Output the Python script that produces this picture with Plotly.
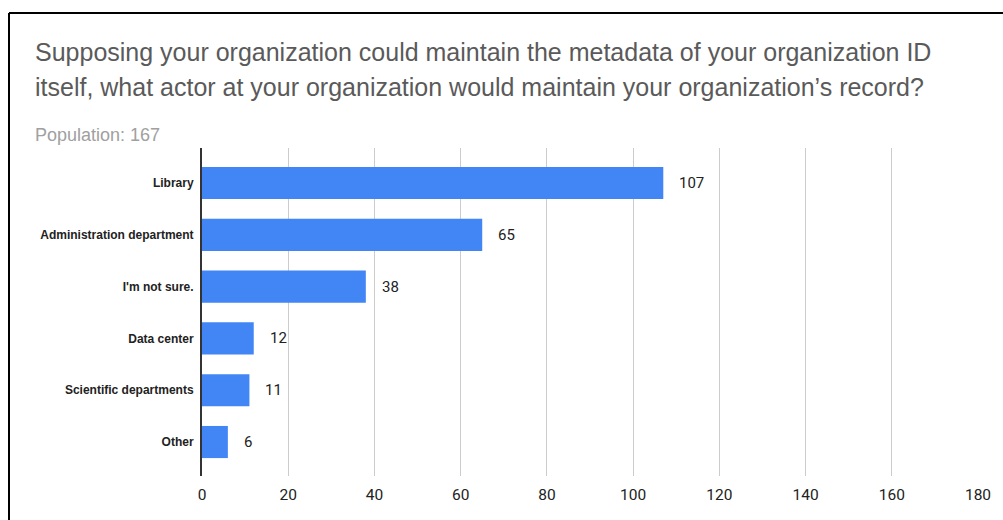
import plotly.graph_objects as go

categories = ["Library", "Administration department", "I'm not sure.", "Data center",
              "Scientific departments", "Other"]
values = [107, 65, 38, 12, 11, 6]
x_ticks = [0, 20, 40, 60, 80, 100, 120, 140, 160, 180]

title_lines = ["Supposing your organization could maintain the metadata of your organization ID",
               "itself, what actor at your organization would maintain your organization\u2019s record?"]
subtitle = "Population: 167"

W, H = 1003, 520
L, R, T, B = 202, 25, 148, 44
pw, ph = W - L - R, H - T - B

def px(x):
    return (x - L) / pw

def py(y):
    return (H - B - y) / ph

fig = go.Figure()
fig.add_trace(go.Bar(
    x=values, y=categories, orientation="h",
    marker=dict(color="#4285F4", line=dict(width=0)),
    hoverinfo="skip",
))

annotations = []
for c, v in zip(categories, values):
    annotations.append(dict(x=v, y=c, xref="x", yref="y", text=str(v), showarrow=False,
                            xanchor="left", xshift=14,
                            font=dict(family="Roboto, Liberation Sans, Arial", size=15, color="#222222")))

title_font = dict(family="Liberation Sans, Arial", size=25, color="#5a5a5a")
annotations.append(dict(x=px(33), y=py(52), xref="paper", yref="paper", text=title_lines[0],
                        showarrow=False, xanchor="left", yanchor="middle", font=title_font))
annotations.append(dict(x=px(33), y=py(87), xref="paper", yref="paper", text=title_lines[1],
                        showarrow=False, xanchor="left", yanchor="middle", font=title_font))
annotations.append(dict(x=px(33), y=py(135), xref="paper", yref="paper", text=subtitle,
                        showarrow=False, xanchor="left", yanchor="middle",
                        font=dict(family="Liberation Sans, Arial", size=18, color="#a0a0a0")))

shapes = [
    dict(type="line", xref="paper", yref="paper", x0=px(9), x1=px(9), y0=py(13), y1=py(530),
         line=dict(color="#000000", width=2)),
    dict(type="line", xref="paper", yref="paper", x0=px(9), x1=px(1010), y0=py(13), y1=py(13),
         line=dict(color="#000000", width=2)),
]

fig.update_layout(
    width=W, height=H,
    margin=dict(l=L, r=R, t=T, b=B, pad=0),
    paper_bgcolor="white", plot_bgcolor="white",
    showlegend=False,
    bargap=0.38,
    annotations=annotations,
    shapes=shapes,
    xaxis=dict(range=[0, 180], tickvals=x_ticks, showgrid=True, gridcolor="#cccccc", gridwidth=1,
               zeroline=False, showline=False, ticks="", ticklabelstandoff=7,
               tickfont=dict(family="Roboto, Liberation Sans, Arial", size=15.5, color="#222222")),
    yaxis=dict(categoryorder="array", categoryarray=categories,
               range=[5.656, -0.676], showgrid=False, zeroline=False,
               showline=True, linecolor="#333333", linewidth=2, ticks="", ticklabelstandoff=4,
               tickfont=dict(family="Liberation Sans, Arial", size=12, color="#222222", weight="bold")),
)

fig.write_html("out.html", config={"displayModeBar": False},
               post_script="document.body.style.margin='0';document.body.style.overflow='hidden';")
